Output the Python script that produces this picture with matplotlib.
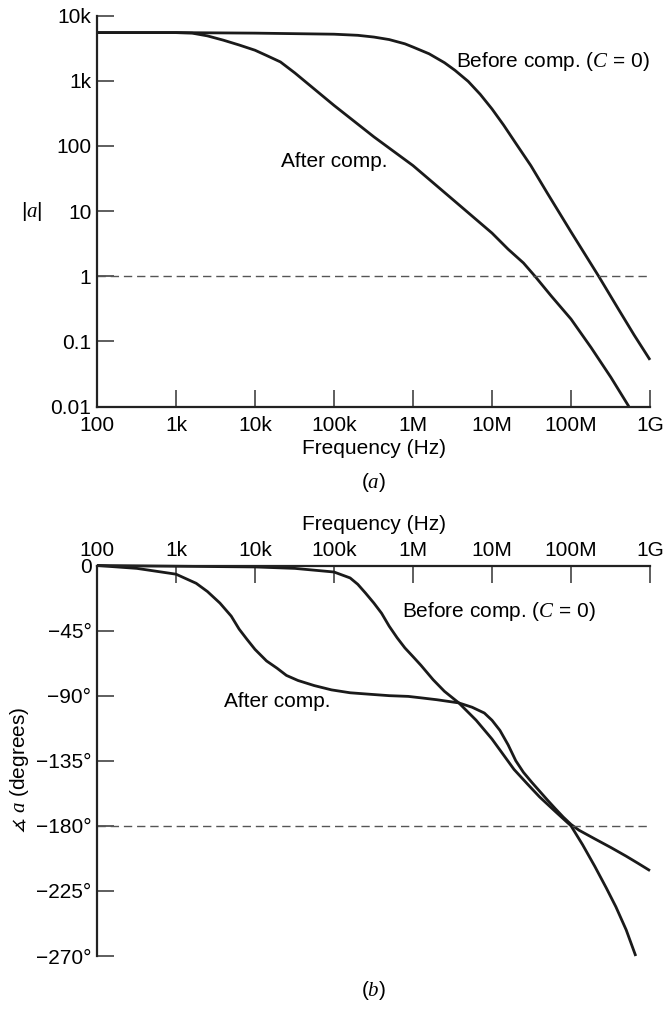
import matplotlib
matplotlib.use("Agg")
import matplotlib.pyplot as plt
from matplotlib.ticker import FixedLocator, FixedFormatter

plt.rcParams['font.family'] = ['Liberation Sans', 'DejaVu Sans']
plt.rcParams['mathtext.fontset'] = 'custom'
plt.rcParams['mathtext.it'] = 'Liberation Serif:italic'
plt.rcParams['mathtext.rm'] = 'Liberation Sans'
plt.rcParams['mathtext.fallback'] = 'stix'

# ---------------- data ----------------
freq_ticks = [1e2, 1e3, 1e4, 1e5, 1e6, 1e7, 1e8, 1e9]
freq_labels = ["100", "1k", "10k", "100k", "1M", "10M", "100M", "1G"]
mag_ticks = [0.01, 0.1, 1, 10, 100, 1e3, 1e4]
mag_labels = ["0.01", "0.1", "1", "10", "100", "1k", "10k"]
phase_ticks = [0, -45, -90, -135, -180, -225, -270]
phase_labels = ["0", "\u221245\u00b0", "\u221290\u00b0", "\u2212135\u00b0",
                "\u2212180\u00b0", "\u2212225\u00b0", "\u2212270\u00b0"]

# |a| before compensation
mag_before_f = [1e2, 1e3, 1e4, 1e5, 2.0e5, 3.2e5, 5.0e5, 7.9e5, 1e6, 1.6e6,
                2.5e6, 3.4e6, 5.0e6, 7.1e6, 1e7, 1.4e7, 2.0e7, 3.1e7, 5.0e7,
                1e8, 2.24e8, 4.0e8, 6.3e8, 1e9]
mag_before = [5500, 5500, 5400, 5200, 5000, 4700, 4300, 3700, 3300, 2600,
              1900, 1450, 980, 620, 370, 210, 110, 50, 19,
              4.8, 1.0, 0.31, 0.125, 0.052]
# |a| after compensation
mag_after_f = [1e2, 1e3, 1.6e3, 2.5e3, 4.0e3, 6.3e3, 1e4, 1.4e4, 2.1e4, 3.2e4,
               1e5, 3.2e5, 1e6, 3.2e6, 1e7, 1.6e7, 2.5e7, 3.5e7, 5.6e7, 1e8,
               1.8e8, 3.2e8, 5.4e8]
mag_after = [5500, 5500, 5400, 4900, 4200, 3550, 2950, 2450, 1950, 1320,
             420, 138, 50, 15, 4.6, 2.6, 1.6, 1.0, 0.5, 0.22,
             0.08, 0.028, 0.01]

# phase before compensation (degrees)
ph_before_f = [1e2, 1e4, 3.2e4, 1e5, 1.6e5, 2.0e5, 2.5e5, 3.2e5, 4.0e5, 5.0e5,
               6.3e5, 7.9e5, 1e6, 1.26e6, 1.8e6, 2.5e6, 3.8e6, 6.3e6, 1e7,
               1.4e7, 1.9e7, 2.8e7, 4e7, 6.3e7, 1e8, 1.4e8, 2e8, 2.8e8,
               3.7e8, 5e8, 6.6e8]
ph_before = [0, -1, -2, -4.5, -8.6, -13, -19, -26, -33, -42,
             -50, -57, -63, -69, -79, -87, -95, -107, -120,
             -131, -141, -151, -160, -170, -180, -193, -208, -223,
             -236, -252, -270]
# phase after compensation (degrees)
ph_after_f = [1e2, 3.2e2, 1e3, 1.8e3, 2.5e3, 3.6e3, 5e3, 6.3e3, 7.9e3, 1e4,
              1.4e4, 1.9e4, 2.5e4, 3.5e4, 5.6e4, 9.3e4, 1.6e5, 2.8e5, 5e5,
              8.7e5, 1.26e6, 2e6, 3.8e6, 5.6e6, 8e6, 1e7, 1.26e7, 1.6e7, 2e7,
              2.5e7, 3.2e7, 4e7, 5e7, 6.3e7, 8e7, 1e8, 1.26e8, 2e8, 3.2e8,
              5e8, 7.1e8, 1e9]
ph_after = [0, -2, -6, -12.3, -18, -26, -35, -44, -51, -58,
            -66, -71, -76, -79.5, -83, -86, -88, -89, -90,
            -90.5, -91.5, -92.8, -95, -98, -102, -107, -114, -124, -135,
            -143, -150, -156, -162, -168, -174, -179, -183, -189, -195,
            -201, -206, -211]

# ---------------- figure ----------------
W, H = 666, 1014
fig = plt.figure(figsize=(W / 100, H / 100), dpi=100)

def fx(px):
    return px / W

def fy(py):
    return 1 - py / H

L, R = 97, 650
ax1 = fig.add_axes([fx(L), fy(406.5), fx(R - L), (406.5 - 15.7) / H])
ax2 = fig.add_axes([fx(L), fy(956), fx(R - L), (956 - 565.5) / H])

lw_curve = 2.0
lw_spine = 1.6
fs = 15
ink = '#1a1a1a'

for ax in (ax1, ax2):
    ax.set_xscale('log')
    ax.set_xlim(1e2, 1e9)
    ax.xaxis.set_major_locator(FixedLocator(freq_ticks))
    ax.xaxis.set_major_formatter(FixedFormatter(freq_labels))
    ax.xaxis.set_minor_locator(FixedLocator([]))
    for s in ax.spines.values():
        s.set_linewidth(lw_spine)
        s.set_color('#222222')
    ax.tick_params(direction='in', length=12, width=1.1, color='#333333',
                   labelsize=fs, pad=4)
    ax.set_facecolor('none')

# top: magnitude
ax1.set_yscale('log')
ax1.set_ylim(0.01, 1e4)
ax1.yaxis.set_major_locator(FixedLocator(mag_ticks))
ax1.yaxis.set_major_formatter(FixedFormatter(mag_labels))
ax1.yaxis.set_minor_locator(FixedLocator([]))
ax1.tick_params(axis='x', pad=6.5)
ax1.spines['top'].set_visible(False)
ax1.spines['right'].set_visible(False)
for fr, val in ((mag_before_f, mag_before), (mag_after_f, mag_after)):
    ax1.plot(fr, val, color=ink, lw=lw_curve, clip_on=False,
             solid_capstyle='butt', solid_joinstyle='round')
ax1.axhline(1, color='#555555', lw=1.0, ls=(0, (6, 3.5)))
ax1.text(10 ** (2 + (456 - 97) / 79), 10 ** (4 - (62 - 15.7) / 65.2),
         "Before comp. ($C$ = 0)", fontsize=fs, ha='left', va='center')
ax1.text(10 ** (2 + (281 - 97) / 79), 10 ** (4 - (162 - 15.7) / 65.2),
         "After comp.", fontsize=fs, ha='left', va='center')
ax1.text((32 - 97) / (R - L), 0.5, "|$a$|", transform=ax1.transAxes,
         fontsize=fs, ha='center', va='center')
ax1.text(0.5, (406.5 - 449) / 390.8, "Frequency (Hz)", transform=ax1.transAxes,
         fontsize=fs, ha='center', va='center')
ax1.text(0.5, (406.5 - 482) / 390.8, "($a$)", transform=ax1.transAxes,
         fontsize=fs, ha='center', va='center')

# bottom: phase
ax2.set_ylim(-270, 0)
ax2.yaxis.set_major_locator(FixedLocator(phase_ticks))
ax2.yaxis.set_major_formatter(FixedFormatter(phase_labels))
ax2.spines['bottom'].set_visible(False)
ax2.spines['right'].set_visible(False)
ax2.xaxis.tick_top()
ax2.tick_params(axis='x', which='both', top=True, bottom=False,
                labeltop=True, labelbottom=False)
for fr, val in ((ph_before_f, ph_before), (ph_after_f, ph_after)):
    ax2.plot(fr, val, color=ink, lw=lw_curve, clip_on=False,
             solid_capstyle='butt', solid_joinstyle='round')
ax2.axhline(-180, color='#555555', lw=1.0, ls=(0, (6, 3.5)))
ax2.text(10 ** (2 + (402 - 97) / 79), -(612 - 565.5) / 65.2 * 45,
         "Before comp. ($C$ = 0)", fontsize=fs, ha='left', va='center')
ax2.text(10 ** (2 + (224 - 97) / 79), -(702 - 565.5) / 65.2 * 45,
         "After comp.", fontsize=fs, ha='left', va='center')
ax2.text((20 - 97) / (R - L), (956 - 770) / 390.5,
         r"$\measuredangle$ $a$ (degrees)", transform=ax2.transAxes,
         fontsize=fs, ha='center', va='center', rotation=90)
ax2.text(0.5, 1 + (565.5 - 525) / 390.5, "Frequency (Hz)", transform=ax2.transAxes,
         fontsize=fs, ha='center', va='center')
ax2.text(0.5, (956 - 990) / 390.5, "($b$)", transform=ax2.transAxes,
         fontsize=fs, ha='center', va='center')

fig.savefig("out.png", dpi=100, facecolor='white')
